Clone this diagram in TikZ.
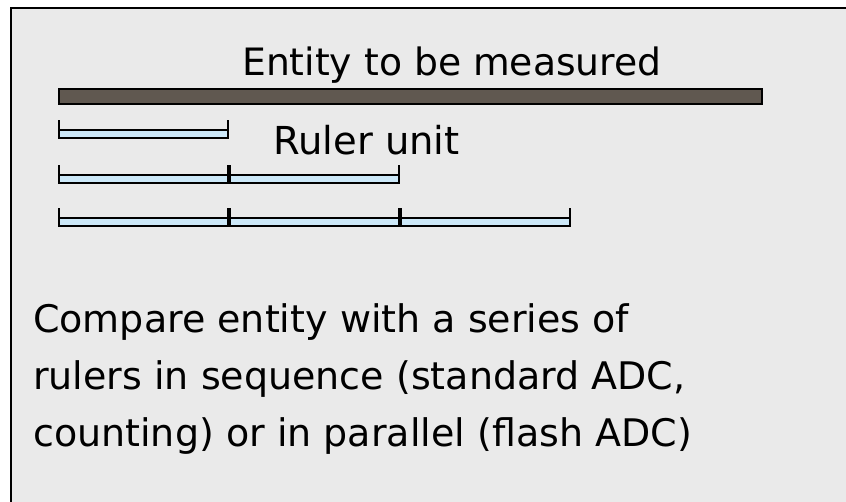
\documentclass[tikz,border=0pt]{standalone}
\usepackage{fontspec}
\setmainfont{DejaVu Sans}
\usetikzlibrary{calc}
\definecolor{panelgrey}{HTML}{EAEAEA}
\definecolor{entitybrown}{HTML}{605850}
\definecolor{rulerblue}{HTML}{CCE8F8}

\begin{document}
\begin{tikzpicture}[x=1pt,y=-1pt,
    rulerbar/.style={draw=black,line width=1.6pt,fill=rulerblue},
    rulertick/.style={draw=black,line width=1.6pt},
    label/.style={inner sep=0pt,anchor=base west}]
  \useasboundingbox (0,0) rectangle (846,501);
  \clip (0,0) rectangle (846,501);
  \draw[fill=panelgrey,line width=2pt] (11,8) rectangle (870,530);

  \draw[fill=entitybrown,line width=2.2pt] (59,89) rectangle (762,104);
  \node[label,font=\fontsize{37.7}{45}\selectfont] (entity) at (242,75) {Entity to be measured};

  % rows of ruler units: row number / top of the ticks
  \foreach \row/\top in {1/120,2/165,3/208} {
    \foreach \k in {1,...,\row} {
      \pgfmathsetmacro{\xa}{59+(\k-1)*171}
      \pgfmathsetmacro{\xb}{\xa+169}
      \draw[rulerbar] (\xa,\top+10) rectangle (\xb,\top+18);
      \draw[rulertick] (\xa,\top) -- (\xa,\top+18) (\xb,\top) -- (\xb,\top+18);
    };
  };
  \node[label,font=\fontsize{38.5}{45}\selectfont] (unit) at (273,154) {Ruler unit};

  % base of a multi-line node is its last line
  \node[label,align=left,font=\fontsize{38}{57}\selectfont] (compare) at (33,446)
    {Compare entity with a series of\\
     rulers in sequence (standard ADC,\\
     counting) or in parallel (flash ADC)};
\end{tikzpicture}
\end{document}
